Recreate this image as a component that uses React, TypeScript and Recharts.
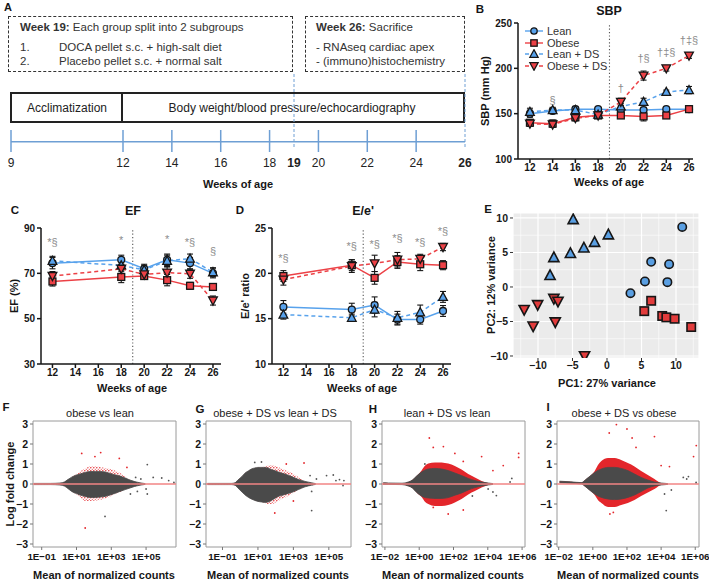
import React from 'react';
import {
  ComposedChart,
  ScatterChart,
  Line,
  Scatter,
  Area,
  XAxis,
  YAxis,
  ErrorBar,
  ReferenceLine,
  ReferenceArea,
  CartesianGrid,
  Legend,
} from 'recharts';

const FONT = '"Liberation Sans", Arial, Helvetica, sans-serif';
const BLUE = '#58A2EC';
const RED = '#EC4146';
const INK = '#161616';

// ---------- A: study timeline ----------
const A_TICK_WEEKS = [9, 12, 14, 16, 18, 20, 22, 24];
const A_LABEL_WEEKS = [9, 12, 14, 16, 18, 19, 20, 22, 24, 26];
const A_MARKED_WEEKS = [19, 26];
const A_BREAK = 7.415; // week 9 is drawn before an axis break
const aPos = (w: number) => (w === 9 ? A_BREAK : w);

// ---------- B: systolic blood pressure ----------
const SBP_WEEKS = [12, 14, 16, 18, 20, 22, 24, 26];
const SBP_LEAN = [150, 153, 155, 155, 154, 154, 155, 155];
const SBP_LEAN_SEM = [4, 3, 3, 2, 3, 3, 2, 3];
const SBP_OBESE = [140, 139, 146, 148, 148, 147, 148, 155];
const SBP_OBESE_SEM = [3, 4, 3, 3, 3, 5, 2, 3];
const SBP_LEAN_DS = [152, 154, 154, 149, 158, 163, 174, 176];
const SBP_LEAN_DS_SEM = [4, 3, 3, 2, 3, 4, 2, 4];
const SBP_OBESE_DS = [139, 138, 145, 148, 163, 192, 200, 214];
const SBP_OBESE_DS_SEM = [3, 3, 3, 2, 4, 5, 3, 3];
const SBP_NOTES = [
  { week: 14, y: 165, t: '§' },
  { week: 20, y: 178, t: '†' },
  { week: 22, y: 211, t: '†§' },
  { week: 24, y: 218, t: '†‡§' },
  { week: 26, y: 231, t: '†‡§' },
];

// ---------- C / D: echocardiography ----------
const ECHO_WEEKS = [12, 18, 20, 22, 24, 26];
const EF_LEAN = [74.5, 76, 72, 76, 74.5, 70];
const EF_LEAN_SEM = [2.5, 2, 2, 2.5, 2.5, 2];
const EF_LEAN_DS = [75.5, 73.5, 71.5, 75.5, 76.5, 70.5];
const EF_LEAN_DS_SEM = [2, 2, 2, 2.5, 2, 2];
const EF_OBESE = [66.4, 68.4, 68.8, 67, 64.5, 64];
const EF_OBESE_SEM = [2, 2.5, 1.5, 2.5, 1.5, 1.5];
const EF_OBESE_DS = [68.8, 72, 69.5, 70.3, 69.8, 58];
const EF_OBESE_DS_SEM = [2, 2, 1.5, 2.5, 2, 2];
const EF_NOTES = [
  { week: 12, y: 84, t: '*§' },
  { week: 18, y: 84.5, t: '*' },
  { week: 22, y: 85.3, t: '*' },
  { week: 24, y: 84, t: '*§' },
  { week: 26, y: 80, t: '§' },
];

const EE_LEAN = [16.3, 16.0, 16.5, 14.9, 14.9, 15.85];
const EE_LEAN_SEM = [0.7, 0.7, 0.9, 0.6, 0.5, 0.6];
const EE_LEAN_DS = [15.45, 15.1, 16.0, 15.1, 15.7, 17.4];
const EE_LEAN_DS_SEM = [0.5, 0.4, 0.8, 0.7, 0.8, 0.6];
const EE_OBESE = [19.7, 20.9, 19.5, 21.25, 21.0, 20.9];
const EE_OBESE_SEM = [0.6, 0.6, 0.7, 0.7, 0.7, 0.5];
const EE_OBESE_DS = [19.3, 20.8, 21.1, 21.5, 21.6, 22.9];
const EE_OBESE_DS_SEM = [0.6, 0.7, 0.9, 0.8, 0.5, 0.4];
const EE_NOTES = [
  { week: 12, y: 21.7, t: '*§' },
  { week: 18, y: 23, t: '*§' },
  { week: 20, y: 23.2, t: '*§' },
  { week: 22, y: 23.9, t: '*§' },
  { week: 24, y: 23.5, t: '*§' },
  { week: 26, y: 24.7, t: '*§' },
];

// ---------- E: PCA ----------
const PCA_LEAN = [[10.9, 8.7], [6.4, 3.65], [9.0, 3.3], [5.5, 0.8], [8.75, 0.7], [3.4, -0.9]];
const PCA_OBESE = [[6.4, -2.0], [5.4, -3.5], [8.0, -4.2], [8.6, -4.4], [9.8, -4.6], [12.2, -5.8]];
const PCA_LEAN_DS = [[-4.9, 9.8], [0.2, 7.6], [-1.8, 6.5], [-3.35, 5.7], [-5.3, 4.9], [-7.7, 4.3], [-8.25, 1.7]];
const PCA_OBESE_DS = [[-7.7, -1.7], [-7.1, -2.1], [-10.05, -2.6], [-12, -3.3], [-7.5, -5.1], [-10.7, -5.7], [-3.25, -10]];
const PCA_TICKS = [-10, -5, 0, 5, 10];
const PCA_MINOR_X = [-12.5, -7.5, -2.5, 2.5, 7.5, 12.5];
const PCA_MINOR_Y = [-7.5, -2.5, 2.5, 7.5];

// ---------- F-I: MA plots ----------
// rows: [log10 mean, gray low, gray high, red low, red high]
const MA_F_CLOUD = [
  [-1.45, -0.03, 0.03], [-0.5, -0.03, 0.03], [0.05, -0.05, 0.05], [0.3, -0.1, 0.1],
  [0.5, -0.22, 0.22], [0.72, -0.37, 0.34], [1.0, -0.48, 0.45, -0.52, 0.5],
  [1.2, -0.55, 0.5, -0.65, 0.62], [1.5, -0.62, 0.58, -0.85, 0.78], [1.78, -0.67, 0.62, -0.85, 0.88],
  [2.1, -0.67, 0.63, -0.82, 0.88], [2.35, -0.65, 0.63, -0.8, 0.85], [2.65, -0.62, 0.6, -0.72, 0.8],
  [2.93, -0.55, 0.53, -0.62, 0.75], [3.2, -0.47, 0.46, -0.5, 0.68], [3.5, -0.37, 0.4, -0.4, 0.55],
  [3.8, -0.28, 0.3, -0.28, 0.38], [4.07, -0.2, 0.2], [4.35, -0.12, 0.12], [4.65, -0.06, 0.06], [4.95, -0.02, 0.02],
];
const MA_F_POINTS = [
  [1.3, 1.53, 1], [2.39, 1.57, 1], [2.06, 1.37, 1], [3.46, 1.28, 1], [1.5, -2.2, 1], [3.9, 0.83, 1],
  [2.64, -1.62, 0], [5.07, 0.97, 0], [5.41, 0.33, 0], [5.9, 0.3, 0], [6.3, 0.17, 0], [6.6, 0.08, 0],
  [5.07, -0.5, 0], [5.0, -0.25, 0], [4.5, -0.37, 0], [4.1, -0.5, 0], [4.4, 0.33, 0], [4.7, 0.25, 0],
];
const MA_G_CLOUD = [
  [-1.85, -0.03, 0.03], [-0.5, -0.03, 0.03], [-0.3, -0.06, 0.06], [-0.13, -0.2, 0.2], [0.1, -0.4, 0.38],
  [0.25, -0.53, 0.53], [0.45, -0.66, 0.65], [0.63, -0.75, 0.75], [0.82, -0.82, 0.8], [1.0, -0.87, 0.83],
  [1.2, -0.9, 0.83], [1.39, -0.92, 0.83, -0.95, 0.87], [1.57, -0.9, 0.8, -1.0, 0.92],
  [1.76, -0.82, 0.72, -1.0, 0.95], [1.95, -0.72, 0.67, -0.95, 0.9], [2.14, -0.62, 0.6, -0.85, 0.85],
  [2.33, -0.58, 0.55, -0.75, 0.78], [2.52, -0.52, 0.5, -0.68, 0.7], [2.9, -0.42, 0.37, -0.5, 0.55],
  [3.28, -0.28, 0.23, -0.3, 0.35], [3.66, -0.14, 0.13], [4.03, -0.06, 0.06], [4.25, -0.02, 0.02],
];
const MA_G_POINTS = [
  [3.6, 1.05, 1], [1.95, -1.45, 1], [2.6, 1.0, 1], [3.0, -0.85, 1],
  [0.82, 1.08, 0], [1.2, 1.1, 0], [3.94, 0.42, 0], [4.3, 0.25, 0], [4.87, 0.42, 0], [5.25, 0.45, 0],
  [5.4, 0.17, 0], [5.6, 0.22, 0], [5.85, 0.17, 0], [5.8, -0.08, 0], [4.03, -1.33, 0], [4.03, -0.37, 0],
];
const MA_H_CLOUD = [
  [-2.1, -0.02, 0.06], [-1.8, -0.02, 0.05], [-1.0, -0.03, 0.04], [-0.64, -0.1, 0.1], [-0.4, -0.2, 0.2],
  [-0.15, -0.42, 0.4], [0.14, -0.6, 0.6, -0.65, 0.68], [0.35, -0.68, 0.7, -0.9, 0.92],
  [0.53, -0.7, 0.75, -1.0, 1.02], [0.92, -0.72, 0.78, -1.1, 1.08], [1.31, -0.72, 0.75, -1.1, 1.08],
  [1.69, -0.68, 0.67, -1.05, 1.02], [2.08, -0.56, 0.55, -0.92, 0.9], [2.47, -0.45, 0.42, -0.75, 0.72],
  [2.86, -0.3, 0.28, -0.52, 0.5], [3.25, -0.18, 0.17, -0.35, 0.32], [3.64, -0.1, 0.1, -0.18, 0.15],
  [4.02, -0.05, 0.05], [4.3, -0.02, 0.02],
];
const MA_H_POINTS = [
  [0.59, 2.3, 1], [0.82, 1.83, 1], [1.41, 1.87, 1], [2.08, 1.53, 1], [2.57, 1.13, 1], [3.64, 1.37, 1],
  [4.3, 0.67, 1], [4.9, 0.92, 1], [5.8, 1.53, 1], [5.8, 1.33, 1], [1.69, -1.5, 1], [2.57, -1.3, 1], [0.82, -1.17, 1],
  [0.33, 1.0, 0], [5.4, 0.28, 0], [5.3, 0.1, 0], [4.02, -0.25, 0], [4.5, -0.58, 0], [4.3, -0.4, 0], [3.1, -0.6, 0],
];
const MA_I_CLOUD = [
  [-1.95, 0.06, 0.14], [-1.3, 0.04, 0.11], [-0.67, 0.0, 0.07], [-0.45, -0.12, 0.2], [-0.2, -0.3, 0.37],
  [0.11, -0.5, 0.58, -0.55, 0.65], [0.3, -0.6, 0.68, -0.8, 0.95], [0.5, -0.67, 0.75, -0.95, 1.15],
  [0.89, -0.75, 0.83, -1.15, 1.3], [1.28, -0.78, 0.83, -1.15, 1.3], [1.66, -0.75, 0.78, -1.05, 1.2],
  [2.05, -0.67, 0.67, -0.95, 1.05], [2.44, -0.55, 0.5, -0.8, 0.88], [2.83, -0.38, 0.33, -0.6, 0.65],
  [3.22, -0.2, 0.2, -0.42, 0.45], [3.61, -0.1, 0.1, -0.25, 0.25], [4.0, -0.05, 0.05], [4.39, -0.02, 0.02],
];
const MA_I_POINTS = [
  [1.38, 2.97, 1], [0.96, 2.55, 1], [2.0, 2.75, 1], [2.3, 2.3, 1], [3.61, 2.37, 1], [2.53, 1.83, 1],
  [4.0, 0.92, 1], [4.49, 0.87, 1], [6.06, 1.92, 1], [5.9, 1.37, 1], [1.2, -1.42, 1], [1.0, -1.5, 1],
  [4.3, -1.33, 0], [5.3, 0.33, 0], [5.5, 0.25, 0], [5.6, 0.37, 0], [6.05, 0.08, 0], [4.2, -0.5, 0], [4.6, -0.3, 0],
];
const MA_TICKS_ODD = [-1, 1, 3, 5];
const MA_TICKS_EVEN = [-2, 0, 2, 4, 6];
const MA_Y_TICKS = [-3, -2, -1, 0, 1, 2, 3];

// ---------- helpers ----------
type Kind = 'circle' | 'square' | 'up' | 'down';

function Marker({ kind, cx, cy, fill, size = 8, sw = 1.3 }: any) {
  const h = size / 2;
  const common = { fill, stroke: INK, strokeWidth: sw };
  if (kind === 'circle') return <circle cx={cx} cy={cy} r={h - 0.3} {...common} />;
  if (kind === 'square') return <rect x={cx - h + 0.3} y={cy - h + 0.3} width={size - 0.6} height={size - 0.6} {...common} />;
  if (kind === 'up')
    return <polygon points={`${cx},${cy - h - 0.8} ${cx - h - 0.6},${cy + h - 0.2} ${cx + h + 0.6},${cy + h - 0.2}`} {...common} />;
  return <polygon points={`${cx},${cy + h + 0.8} ${cx - h - 0.6},${cy - h + 0.2} ${cx + h + 0.6},${cy - h + 0.2}`} {...common} />;
}

const SERIES: { key: string; name: string; kind: Kind; color: string; dash?: string }[] = [
  { key: 'lean', name: 'Lean', kind: 'circle', color: BLUE },
  { key: 'obese', name: 'Obese', kind: 'square', color: RED },
  { key: 'leanDs', name: 'Lean + DS', kind: 'up', color: BLUE, dash: '4 3' },
  { key: 'obeseDs', name: 'Obese + DS', kind: 'down', color: RED, dash: '4 3' },
];

function buildRows(weeks: number[], vals: number[][], sems: number[][]) {
  return weeks.map((week, i) => {
    const row: any = { week };
    SERIES.forEach((s, k) => {
      row[s.key] = vals[k][i];
      row[s.key + 'Err'] = sems[k][i];
    });
    return row;
  });
}

const sbpRows = buildRows(
  SBP_WEEKS,
  [SBP_LEAN, SBP_OBESE, SBP_LEAN_DS, SBP_OBESE_DS],
  [SBP_LEAN_SEM, SBP_OBESE_SEM, SBP_LEAN_DS_SEM, SBP_OBESE_DS_SEM],
);
const efRows = buildRows(
  ECHO_WEEKS,
  [EF_LEAN, EF_OBESE, EF_LEAN_DS, EF_OBESE_DS],
  [EF_LEAN_SEM, EF_OBESE_SEM, EF_LEAN_DS_SEM, EF_OBESE_DS_SEM],
);
const eeRows = buildRows(
  ECHO_WEEKS,
  [EE_LEAN, EE_OBESE, EE_LEAN_DS, EE_OBESE_DS],
  [EE_LEAN_SEM, EE_OBESE_SEM, EE_LEAN_DS_SEM, EE_OBESE_DS_SEM],
);

function Txt({ x, y, children, size = 11, bold = false, anchor = 'middle', rotate = false, color = INK }: any) {
  const tx = anchor === 'middle' ? '-50%' : anchor === 'end' ? '-100%' : '0';
  return (
    <div
      style={{
        position: 'absolute',
        left: x,
        top: y,
        transform: `translate(${tx}, -50%)${rotate ? ' rotate(-90deg)' : ''}`,
        fontSize: size,
        fontWeight: bold ? 700 : 400,
        color,
        whiteSpace: 'nowrap',
        lineHeight: 1,
      }}
    >
      {children}
    </div>
  );
}

const axisTick = { fill: INK, fontSize: 10, fontWeight: 700, fontFamily: FONT };

function BLegend() {
  return (
    <div style={{ fontFamily: FONT, fontSize: 11, color: '#333' }}>
      {SERIES.map((s) => (
        <div key={s.key} style={{ display: 'flex', alignItems: 'center', height: 11.7 }}>
          <svg width={20} height={10} style={{ marginRight: 3 }}>
            <line x1={1} x2={19} y1={5} y2={5} stroke={s.color} strokeWidth={1.4} strokeDasharray={s.dash} />
            <Marker kind={s.kind} cx={10} cy={5} fill={s.color} size={7} />
          </svg>
          <span>{s.name}</span>
        </div>
      ))}
    </div>
  );
}

function TimeCourse({ rows, notes, width, height, margin, yWidth, xDomain, yDomain, yTicks, legend }: any) {
  return (
    <ComposedChart width={width} height={height} data={rows} margin={margin}>
      <XAxis
        dataKey="week"
        type="number"
        domain={xDomain}
        ticks={SBP_WEEKS}
        interval={0}
        height={20}
        tick={axisTick}
        tickSize={4}
        tickMargin={1}
        stroke={INK}
        strokeWidth={1.5}
      />
      <YAxis
        type="number"
        domain={yDomain}
        ticks={yTicks}
        interval={0}
        width={yWidth}
        tick={axisTick}
        tickSize={4}
        tickMargin={2}
        stroke={INK}
        strokeWidth={1.5}
      />
      <ReferenceLine x={19} stroke="#555" strokeWidth={1.1} strokeDasharray="1.2 2.2" />
      {SERIES.map((s) => (
        <Line
          key={s.key}
          dataKey={s.key}
          stroke={s.color}
          strokeWidth={1.5}
          strokeDasharray={s.dash}
          isAnimationActive={false}
          dot={(p: any) => <Marker key={`${s.key}-${p.index}`} kind={s.kind} cx={p.cx} cy={p.cy} fill={s.color} size={7.5} />}
          activeDot={false}
        >
          <ErrorBar dataKey={s.key + 'Err'} width={3} stroke={INK} strokeWidth={1.1} direction="y" />
        </Line>
      ))}
      <Scatter
        data={notes}
        dataKey="y"
        isAnimationActive={false}
        shape={(p: any) => (
          <text x={p.cx} y={p.cy} textAnchor="middle" dominantBaseline="central" fontSize={11} fontFamily={FONT} fill="#8C8C8C">
            {p.payload.t}
          </text>
        )}
      />
      {legend && (
        <Legend
          layout="vertical"
          align="center"
          verticalAlign="middle"
          wrapperStyle={{ position: 'absolute', top: 25, left: 54, width: 120 }}
          content={() => <BLegend />}
        />
      )}
    </ComposedChart>
  );
}

function PcaPlot() {
  const groups: { pts: number[][]; kind: Kind; fill: string }[] = [
    { pts: PCA_LEAN, kind: 'circle', fill: '#5A9FE2' },
    { pts: PCA_LEAN_DS, kind: 'up', fill: '#5A9FE2' },
    { pts: PCA_OBESE, kind: 'square', fill: '#E23C3C' },
    { pts: PCA_OBESE_DS, kind: 'down', fill: '#E23C3C' },
  ];
  const tick = { fill: '#1a1a1a', fontSize: 10.5, fontWeight: 700, fontFamily: FONT };
  return (
    <ScatterChart width={239} height={195} margin={{ top: 18, right: 10, bottom: 16, left: 0 }}>
      <CartesianGrid fill="#EBEBEB" stroke="#FFFFFF" strokeWidth={1.2} />
      {PCA_MINOR_X.map((v) => (
        <ReferenceLine key={'mx' + v} x={v} stroke="#FFFFFF" strokeWidth={0.6} />
      ))}
      {PCA_MINOR_Y.map((v) => (
        <ReferenceLine key={'my' + v} y={v} stroke="#FFFFFF" strokeWidth={0.6} />
      ))}
      <XAxis
        type="number"
        dataKey="x"
        domain={[-13.62, 13.33]}
        ticks={PCA_TICKS}
        interval={0}
        allowDataOverflow
        axisLine={false}
        tickSize={3}
        tickMargin={1}
        stroke="#333"
        tick={tick}
        height={16}
        tickFormatter={(v: number) => (v < 0 ? `−${-v}` : `${v}`)}
      />
      <YAxis
        type="number"
        dataKey="y"
        domain={[-10.29, 10.72]}
        ticks={PCA_TICKS}
        interval={0}
        allowDataOverflow
        axisLine={false}
        tickSize={3}
        tickMargin={2}
        stroke="#333"
        tick={tick}
        width={43}
        tickFormatter={(v: number) => (v < 0 ? `−${-v}` : `${v}`)}
      />
      {groups.map((g, gi) => (
        <Scatter
          key={gi}
          data={g.pts.map(([x, y]) => ({ x, y }))}
          isAnimationActive={false}
          shape={(p: any) => <Marker kind={g.kind} cx={p.cx} cy={p.cy} fill={g.fill} size={9} sw={1.6} />}
        />
      ))}
    </ScatterChart>
  );
}

const maFmt = (v: number) => `1E${v < 0 ? '−' : '+'}${String(Math.abs(v)).padStart(2, '0')}`;

function MAPlot({ id, cloud, points, domain, ticks, width, yWidth, right, speckled }: any) {
  const rows = cloud.map((r: number[]) => ({
    x: r[0],
    gray: [r[1], r[2]],
    red: [r[3] ?? r[1], r[4] ?? r[2]],
  }));
  const pts = points.map(([x, y, red]: number[]) => ({ x, y, red }));
  const tick = { fill: INK, fontSize: 9.8, fontWeight: 700, fontFamily: FONT };
  const pid = `speck-${id}`;
  return (
    <ComposedChart width={width} height={184} data={rows} margin={{ top: 26, right, bottom: 12, left: 0 }}>
      <defs>
        <pattern id={pid} width={3} height={3} patternUnits="userSpaceOnUse">
          <circle cx={0.8} cy={0.8} r={0.75} fill="#E3262B" />
          <circle cx={2.3} cy={2.2} r={0.55} fill="#E3262B" />
        </pattern>
      </defs>
      <XAxis
        type="number"
        dataKey="x"
        domain={domain}
        ticks={ticks}
        interval={0}
        allowDataOverflow
        axisLine={false}
        tickSize={3}
        tickMargin={3}
        stroke="#777"
        tick={tick}
        height={20}
        tickFormatter={maFmt}
      />
      <YAxis
        type="number"
        domain={[-3.15, 3.15]}
        ticks={MA_Y_TICKS}
        interval={0}
        allowDataOverflow
        axisLine={false}
        tickSize={3}
        tickMargin={2}
        stroke="#777"
        tick={{ ...tick, fontSize: 10.5 }}
        width={yWidth}
        tickFormatter={(v: number) => (v < 0 ? `−${-v}` : `${v}`)}
      />
      <Area
        type="monotone"
        dataKey="red"
        stroke="none"
        fill={speckled ? `url(#${pid})` : '#E3262B'}
        fillOpacity={1}
        isAnimationActive={false}
        activeDot={false}
      />
      <Area type="monotone" dataKey="gray" stroke="#4A4A4A" strokeWidth={0.8} fill="#4A4A4A" fillOpacity={1} isAnimationActive={false} activeDot={false} />
      <Scatter
        data={pts}
        dataKey="y"
        isAnimationActive={false}
        shape={(p: any) => <circle cx={p.cx} cy={p.cy} r={0.9} fill={p.payload.red ? '#E3262B' : '#555'} />}
      />
      <ReferenceLine y={0} stroke="#F28585" strokeWidth={1.6} />
      <ReferenceArea x1={domain[0]} x2={domain[1]} y1={-3.15} y2={3.15} fill="none" stroke="#9A9A9A" strokeWidth={1} />
    </ComposedChart>
  );
}

function Timeline() {
  const rows = A_LABEL_WEEKS.map((w) => ({ pos: aPos(w), v: 0 }));
  const blue = '#6E9FD4';
  return (
    <ComposedChart width={480} height={140} data={rows} margin={{ top: 12, right: 15, bottom: 28, left: 11 }}>
      <XAxis
        type="number"
        dataKey="pos"
        domain={[A_BREAK, 26]}
        ticks={A_LABEL_WEEKS.map(aPos)}
        interval={0}
        allowDataOverflow
        axisLine={false}
        tickLine={false}
        tickSize={0}
        tickMargin={0}
        height={20}
        tick={(p: any) => {
          const w = A_LABEL_WEEKS[A_LABEL_WEEKS.map(aPos).indexOf(p.payload.value)];
          return (
            <text x={p.x} y={p.y} dy={15} textAnchor="middle" fontSize={12} fontFamily={FONT} fontWeight={A_MARKED_WEEKS.includes(w) ? 700 : 400} fill="#222">
              {w}
            </text>
          );
        }}
      />
      <YAxis hide type="number" domain={[0, 80]} allowDataOverflow />
      <ReferenceLine y={10.3} stroke={blue} strokeWidth={1.5} />
      {A_TICK_WEEKS.map((w) => (
        <ReferenceLine key={w} segment={[{ x: aPos(w), y: 0 }, { x: aPos(w), y: 22 }]} stroke={blue} strokeWidth={1.5} />
      ))}
      {A_MARKED_WEEKS.map((w) => (
        <ReferenceLine key={'d' + w} segment={[{ x: w, y: 5 }, { x: w, y: 80 }]} stroke={blue} strokeWidth={1} strokeDasharray="3 2" />
      ))}
    </ComposedChart>
  );
}

const abs = (left: number, top: number): React.CSSProperties => ({ position: 'absolute', left, top });

export default function App() {
  const dashedBox: React.CSSProperties = { position: 'absolute', border: '1.6px dashed #333', boxSizing: 'border-box' };
  return (
    <div style={{ position: 'absolute', left: 0, top: 0, width: 709, height: 579, background: '#fff', fontFamily: FONT, overflow: 'hidden' }}>
      {/* ---- A ---- */}
      <Txt x={4} y={7} bold size={11} anchor="start">A</Txt>
      <div style={{ ...dashedBox, left: 8, top: 16, width: 285, height: 56 }} />
      <div style={{ ...dashedBox, left: 305, top: 16, width: 160, height: 56 }} />
      <Txt x={20} y={28} size={11.5} anchor="start" color="#333"><b>Week 19:</b> Each group split into 2 subgroups</Txt>
      <Txt x={20} y={48} size={11.5} anchor="start" color="#333">1.</Txt>
      <Txt x={59} y={48} size={11.5} anchor="start" color="#333">DOCA pellet s.c. + high-salt diet</Txt>
      <Txt x={20} y={62} size={11.5} anchor="start" color="#333">2.</Txt>
      <Txt x={59} y={62} size={11.5} anchor="start" color="#333">Placebo pellet s.c. + normal salt</Txt>
      <Txt x={316} y={28} size={11.5} anchor="start" color="#333"><b>Week 26:</b> Sacrifice</Txt>
      <Txt x={316} y={48} size={11.5} anchor="start" color="#333">- RNAseq cardiac apex</Txt>
      <Txt x={316} y={62} size={11.5} anchor="start" color="#333">- (immuno)histochemistry</Txt>
      <div style={{ position: 'absolute', left: 10, top: 92, width: 455, height: 31, border: '2px solid #222', boxSizing: 'border-box' }} />
      <div style={{ position: 'absolute', left: 121, top: 92, width: 2, height: 31, background: '#222' }} />
      <Txt x={67} y={108} size={12} color="#222">Acclimatization</Txt>
      <Txt x={292} y={108} size={12} color="#222">Body weight/blood pressure/echocardiography</Txt>
      <div style={abs(0, 60)}>
        <Timeline />
      </div>
      <Txt x={238} y={184} size={11} bold>Weeks of age</Txt>

      {/* ---- B ---- */}
      <div style={abs(470, 0)}>
        <TimeCourse
          rows={sbpRows}
          notes={SBP_NOTES}
          width={239}
          height={195}
          margin={{ top: 23, right: 16, bottom: 16, left: 0 }}
          yWidth={48}
          xDomain={[10.95, 26.35]}
          yDomain={[100, 250]}
          yTicks={[100, 150, 200, 250]}
          legend
        />
      </div>
      <Txt x={480} y={10} bold size={11.5}>B</Txt>
      <Txt x={609} y={11} bold size={12.5}>SBP</Txt>
      <Txt x={485} y={91} bold size={11} rotate>SBP (mm Hg)</Txt>
      <Txt x={609} y={182} bold size={11}>Weeks of age</Txt>

      {/* ---- C ---- */}
      <div style={abs(0, 195)}>
        <TimeCourse
          rows={efRows}
          notes={EF_NOTES}
          width={235}
          height={200}
          margin={{ top: 33, right: 14, bottom: 11, left: 0 }}
          yWidth={41}
          xDomain={[11, 26.7]}
          yDomain={[30, 90]}
          yTicks={[30, 50, 70, 90]}
        />
      </div>
      <Txt x={15} y={211} bold size={11.5}>C</Txt>
      <Txt x={133} y={211} bold size={12.5}>EF</Txt>
      <Txt x={14} y={296} bold size={11} rotate>EF (%)</Txt>
      <Txt x={132} y={388} bold size={11}>Weeks of age</Txt>

      {/* ---- D ---- */}
      <div style={abs(235, 195)}>
        <TimeCourse
          rows={eeRows}
          notes={EE_NOTES}
          width={235}
          height={200}
          margin={{ top: 33, right: 19, bottom: 11, left: 0 }}
          yWidth={37}
          xDomain={[11, 26.7]}
          yDomain={[10, 25]}
          yTicks={[10, 15, 20, 25]}
        />
      </div>
      <Txt x={240} y={211} bold size={11.5}>D</Txt>
      <Txt x={363} y={211} bold size={12.5}>E/e'</Txt>
      <Txt x={245} y={296} bold size={11} rotate>E/e' ratio</Txt>
      <Txt x={362} y={388} bold size={11}>Weeks of age</Txt>

      {/* ---- E ---- */}
      <div style={abs(470, 195)}>
        <PcaPlot />
      </div>
      <Txt x={488} y={210} bold size={11.5}>E</Txt>
      <Txt x={491} y={285} bold size={11} rotate>PC2: 12% variance</Txt>
      <Txt x={607} y={383} bold size={11}>PC1: 27% variance</Txt>

      {/* ---- F-I ---- */}
      <div style={abs(0, 395)}>
        <MAPlot id="f" cloud={MA_F_CLOUD} points={MA_F_POINTS} domain={[-1.5, 6.72]} ticks={MA_TICKS_ODD} width={185} yWidth={33} right={9} speckled />
      </div>
      <div style={abs(180, 395)}>
        <MAPlot id="g" cloud={MA_G_CLOUD} points={MA_G_POINTS} domain={[-1.93, 6.25]} ticks={MA_TICKS_ODD} width={180} yWidth={26} right={9} speckled />
      </div>
      <div style={abs(355, 395)}>
        <MAPlot id="h" cloud={MA_H_CLOUD} points={MA_H_POINTS} domain={[-2.17, 6.17]} ticks={MA_TICKS_EVEN} width={190} yWidth={27} right={20} />
      </div>
      <div style={abs(530, 395)}>
        <MAPlot id="i" cloud={MA_I_CLOUD} points={MA_I_POINTS} domain={[-2.1, 6.22]} ticks={MA_TICKS_EVEN} width={179} yWidth={27} right={10} />
      </div>
      <Txt x={6} y={408} bold size={11.5}>F</Txt>
      <Txt x={200} y={410} bold size={11.5}>G</Txt>
      <Txt x={373} y={410} bold size={11.5}>H</Txt>
      <Txt x={548} y={408} bold size={11.5}>I</Txt>
      <Txt x={100} y={413} size={11} color="#222">obese vs lean</Txt>
      <Txt x={275} y={413} size={11} color="#222">obese + DS vs lean + DS</Txt>
      <Txt x={447} y={413} size={11} color="#222">lean + DS vs lean</Txt>
      <Txt x={624} y={413} size={11} color="#222">obese + DS vs obese</Txt>
      <Txt x={10} y={484} bold size={11} rotate>Log fold change</Txt>
      <Txt x={104} y={575} bold size={11}>Mean of normalized counts</Txt>
      <Txt x={278} y={575} bold size={11}>Mean of normalized counts</Txt>
      <Txt x={453} y={575} bold size={11}>Mean of normalized counts</Txt>
      <Txt x={628} y={575} bold size={11}>Mean of normalized counts</Txt>
    </div>
  );
}
